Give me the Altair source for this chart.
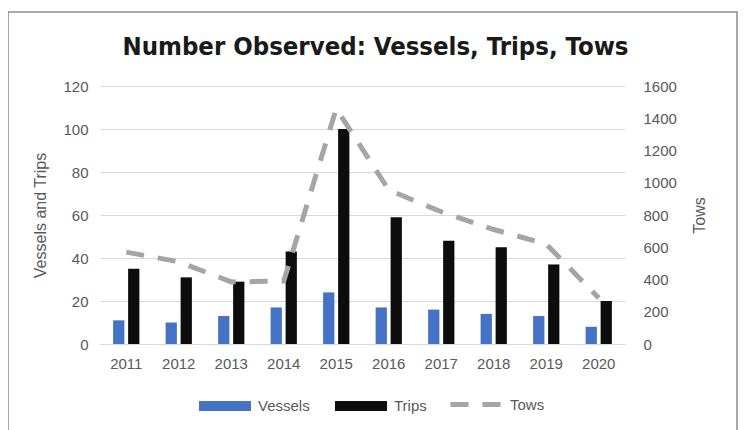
import altair as alt
import pandas as pd

years = ["2011", "2012", "2013", "2014", "2015", "2016", "2017", "2018", "2019", "2020"]
vessels = [11, 10, 13, 17, 24, 17, 16, 14, 13, 8]
trips = [35, 31, 29, 43, 100, 59, 48, 45, 37, 20]
tows = [570, 510, 385, 390, 1460, 955, 820, 710, 620, 285]

bar_df = pd.DataFrame(
    {"year": years * 2,
     "series": ["Vessels"] * len(years) + ["Trips"] * len(years),
     "value": vessels + trips}
)
line_df = pd.DataFrame({"year": years, "series": ["Tows"] * len(years), "value": tows})

FONT = "Liberation Sans"
GRAY = "#595959"

x_enc = alt.X("year:N", title=None,
              scale=alt.Scale(paddingInner=0.5, paddingOuter=0.25),
              axis=alt.Axis(labelAngle=0, ticks=False, labelPadding=12, domainColor="#d9d9d9",
                            labelFont=FONT, labelFontSize=15, labelColor=GRAY))

bars = alt.Chart(bar_df).mark_bar().encode(
    x=x_enc,
    xOffset=alt.XOffset("series:N", sort=["Vessels", "Trips"],
                        scale=alt.Scale(paddingInner=0.25)),
    y=alt.Y("value:Q", title="Vessels and Trips",
            scale=alt.Scale(domain=[0, 120]),
            axis=alt.Axis(values=[0, 20, 40, 60, 80, 100, 120], ticks=False, domain=False,
                          labelPadding=12, gridColor="#d9d9d9", labelFont=FONT,
                          labelFontSize=15, labelColor=GRAY, titleFont=FONT,
                          titleFontSize=16, titleColor=GRAY, titleFontWeight="normal",
                          titlePadding=14)),
    color=alt.Color("series:N", sort=["Vessels", "Trips"],
                    scale=alt.Scale(domain=["Vessels", "Trips"], range=["#4472C4", "#0D0D0D"]),
                    legend=alt.Legend(title=None, orient="none", legendX=99, legendY=294,
                                      direction="horizontal", symbolType="M-1,-0.19H1V0.19H-1Z",
                                      symbolSize=2704, symbolStrokeWidth=0, labelFont=FONT,
                                      labelFontSize=15, labelColor=GRAY, columnPadding=25,
                                      labelOffset=7)),
)

line = alt.Chart(line_df).mark_line(strokeWidth=5, strokeDash=[18, 14], color="#A5A5A5").encode(
    x=alt.X("year:N"),
    y=alt.Y("value:Q", title="Tows", scale=alt.Scale(domain=[0, 1600]),
            axis=alt.Axis(orient="right", values=list(range(0, 1601, 200)), format="d",
                          ticks=False, domain=False, grid=False, labelPadding=18,
                          labelFont=FONT, labelFontSize=15, labelColor=GRAY, titleFont=FONT,
                          titleFontSize=16, titleColor=GRAY, titleFontWeight="normal",
                          titleAngle=270, titlePadding=31)),
    strokeDash=alt.StrokeDash("series:N", scale=alt.Scale(domain=["Tows"], range=[[18, 14]]),
                              legend=alt.Legend(title=None, orient="none", legendX=348,
                                                legendY=290, symbolType="stroke",
                                                symbolSize=2704, symbolStrokeColor="#A5A5A5",
                                                symbolStrokeWidth=5, labelFont=FONT,
                                                labelFontSize=15, labelColor=GRAY,
                                                labelOffset=5)),
)

frame = alt.Chart(alt.Data(values=[{}])).mark_rect(
    fill=None, stroke="#8c8c8c", strokeWidth=1.5
).encode(x=alt.value(-92), x2=alt.value(637), y=alt.value(-74), y2=alt.value(400))

chart = alt.layer(bars, line, frame).resolve_scale(
    y="independent", strokeDash="independent"
).properties(
    width=525, height=258,
    title=alt.TitleParams("Number Observed: Vessels, Trips, Tows", font="DejaVu Sans Condensed",
                          fontSize=25.5, fontWeight="bold", color="#1a1a1a", anchor="middle",
                          dx=13, offset=-49),
    autosize=alt.AutoSizeParams(type="none"),
    padding={"left": 92, "top": 78, "right": 113, "bottom": 86},
).configure_view(stroke=None)

chart.save("out.html", embed_options={"renderer": "svg", "actions": False})
